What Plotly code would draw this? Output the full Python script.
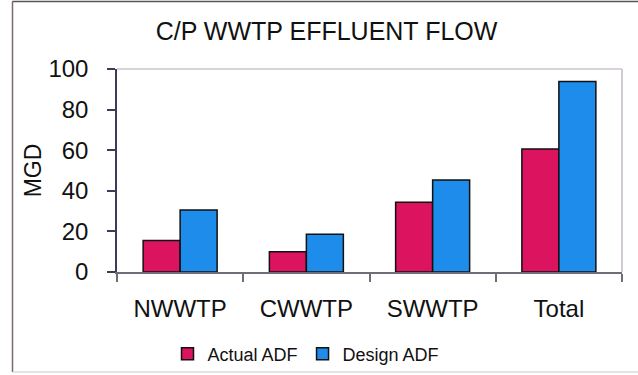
import plotly.graph_objects as go

# Effluent flow by treatment plant (million gallons per day)
plants = ["NWWTP", "CWWTP", "SWWTP", "Total"]
actual_adf = [15.5, 10, 34.4, 60.6]
design_adf = [30.5, 18.6, 45.3, 93.8]

series_names = ["Actual ADF", "Design ADF"]
series_colors = ["#DC1460", "#1E8CEB"]

FONT = "Liberation Sans, Arial, sans-serif"

fig = go.Figure()
for name, values, color in zip(series_names, [actual_adf, design_adf], series_colors):
    fig.add_trace(go.Bar(
        x=plants, y=values, name=name,
        marker=dict(color=color, line=dict(color="#111111", width=1.5)),
    ))

# plot area spans x 117..622 px, y 69..272 px
L, R, T, B = 117, 16, 69, 103
W, H = 638, 375
pw, ph = W - L - R, H - T - B

def px_x(x):
    return (x - L) / pw

def px_y(y):
    return (H - B - y) / ph

fig.update_layout(
    width=W, height=H,
    margin=dict(l=L, r=R, t=T, b=B, pad=0, autoexpand=False),
    paper_bgcolor="white", plot_bgcolor="white",
    font=dict(family=FONT, color="#111111"),
    barmode="group", bargap=0.414, bargroupgap=0,
    title=dict(text="C/P WWTP EFFLUENT FLOW", font=dict(size=25, family=FONT, color="#111111"),
               x=326.5 / W, xanchor="center", xref="container",
               y=1 - 31.5 / H, yanchor="middle", yref="container"),
    showlegend=True,
    legend=dict(orientation="h", x=px_x(306), xanchor="center",
                y=1 - 354 / H, yanchor="middle", yref="container",
                font=dict(size=18, family=FONT, color="#111111"), bgcolor="rgba(0,0,0,0)",
                traceorder="normal"),
    xaxis=dict(
        automargin=False,
        showgrid=False, showline=True, linecolor="#6e6e78", linewidth=1.5,
        ticks="outside", tickson="boundaries", ticklen=8, tickcolor="#6e6e78", tickwidth=1.5,
        tickfont=dict(size=24, family=FONT, color="#111111"), ticklabelstandoff=14,
    ),
    yaxis=dict(
        automargin=False,
        range=[0, 100], dtick=20, showgrid=False, zeroline=False,
        showline=True, linecolor="#3c3c5a", linewidth=1.5,
        ticks="outside", ticklen=8, tickcolor="#3c3c5a", tickwidth=1.5,
        tickfont=dict(size=24, family=FONT, color="#111111"), ticklabelstandoff=14,
        title=dict(text="MGD", font=dict(size=23, family=FONT, color="#111111"), standoff=0),
    ),
    shapes=[
        # plot area frame: top and right edges
        dict(type="line", xref="paper", yref="paper", x0=0, x1=1, y0=1, y1=1,
             line=dict(color="#b4a8b8", width=1.2)),
        dict(type="line", xref="paper", yref="paper", x0=1, x1=1, y0=0, y1=1,
             line=dict(color="#b4a8b8", width=1.2)),
        # outer chart frame
        dict(type="line", xref="paper", yref="paper", x0=px_x(12.5), x1=px_x(12.5),
             y0=px_y(1.5), y1=px_y(372), line=dict(color="#7a6a6a", width=1.5)),
        dict(type="line", xref="paper", yref="paper", x0=px_x(12.5), x1=px_x(645),
             y0=px_y(1.5), y1=px_y(1.5), line=dict(color="#555555", width=1.5)),
        dict(type="line", xref="paper", yref="paper", x0=px_x(12.5), x1=px_x(645),
             y0=px_y(372), y1=px_y(372), line=dict(color="#c8c8c8", width=1)),
    ],
)

fig.write_html("out.html")
